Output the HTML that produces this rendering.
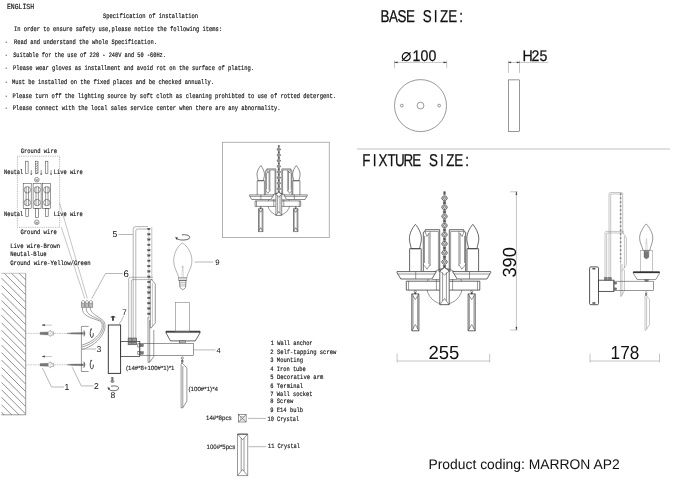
<!DOCTYPE html>
<html><head><meta charset="utf-8"><title>MARRON AP2 installation sheet</title>
<style>
html,body{margin:0;padding:0;background:#fff}
body{width:700px;height:483px;overflow:hidden}
svg{display:block;will-change:transform;text-rendering:geometricPrecision}
.m{font-family:"Liberation Mono","DejaVu Sans Mono",monospace;stroke:#222;stroke-width:.18}
.s{font-family:"Liberation Sans","DejaVu Sans",sans-serif}
.t{fill:none;stroke:#444;stroke-width:.55}
.f{fill:none;stroke:#aaa;stroke-width:.4}
.tu{fill:none;stroke:#777;stroke-width:.55}
.ld{fill:none;stroke:#888;stroke-width:.6}
.t2{fill:none;stroke:#3a3a3a;stroke-width:.6}
.lt{fill:none;stroke:#8c8c8c;stroke-width:.5}
.k2{fill:none;stroke:#444;stroke-width:.9}
.m2{fill:none;stroke:#333;stroke-width:.75}
.k{fill:none;stroke:#333;stroke-width:.95}
.w{fill:none;stroke:#8a8a8a;stroke-width:.8}
.hk{fill:none;stroke:#333;stroke-width:.9}
.an{fill:#777;stroke:#666;stroke-width:.3}
.tb{fill:#bbb;stroke:#666;stroke-width:.5}
.tc{fill:#fff;stroke:#666;stroke-width:.5}
.sb{stroke:#111;stroke-width:.25}
.bf{fill:#e4e4e4 !important}
.fw{fill:#fff !important}
.bd{fill:#555;stroke:#444;stroke-width:.3}
.dk{fill:#333;stroke:#333;stroke-width:.3}
.dk2{fill:#999;stroke:#333;stroke-width:.5}
.dk3{fill:#777;stroke:#555;stroke-width:.4}
.h{fill:none;stroke:#444;stroke-width:.6}
.d{fill:none;stroke:#8a8a8a;stroke-width:.5}
.dot{fill:none;stroke:#666;stroke-width:.5;stroke-dasharray:.9 .9}
.dash{fill:none;stroke:#888;stroke-width:.45;stroke-dasharray:1.6 .8}
.chain{fill:none;stroke:#555;stroke-width:1.5;stroke-dasharray:1.3 2.7}
.gb{fill:none;stroke:#aaa;stroke-width:.9}
.sep{stroke:#a8a8a8;stroke-width:.7}
</style></head>
<body>
<svg width="700" height="483" viewBox="0 0 700 483">
<rect width="700" height="483" fill="#fff"/>
<g id="spec">
<text x="7.0" y="9.0" font-size="7.8" textLength="27.0" lengthAdjust="spacingAndGlyphs" class="m" fill="#111" >ENGLISH</text>
<text x="103.0" y="18.2" font-size="6.8" textLength="95.0" lengthAdjust="spacingAndGlyphs" class="m" fill="#111" >Specification of installation</text>
<text x="14.0" y="31.2" font-size="6.8" textLength="208.0" lengthAdjust="spacingAndGlyphs" class="m" fill="#111" >In order to ensure safety use,please notice the following items:</text>
<text x="5.3" y="44.1" font-size="6.8" textLength="2.0" lengthAdjust="spacingAndGlyphs" class="m" fill="#111" >-</text>
<text x="14.0" y="44.1" font-size="6.8" textLength="143.0" lengthAdjust="spacingAndGlyphs" class="m" fill="#111" >Read and understand the whole Specification.</text>
<text x="5.3" y="56.9" font-size="6.8" textLength="2.0" lengthAdjust="spacingAndGlyphs" class="m" fill="#111" >-</text>
<text x="13.2" y="56.9" font-size="6.8" textLength="152.8" lengthAdjust="spacingAndGlyphs" class="m" fill="#111" >Suitable for the use of 220 - 240V and 50 -60Hz.</text>
<text x="5.3" y="70.1" font-size="6.8" textLength="2.0" lengthAdjust="spacingAndGlyphs" class="m" fill="#111" >-</text>
<text x="12.9" y="70.1" font-size="6.8" textLength="241.1" lengthAdjust="spacingAndGlyphs" class="m" fill="#111" >Please wear gloves as installment and avoid rot on the surface of plating.</text>
<text x="5.3" y="84.2" font-size="6.8" textLength="2.0" lengthAdjust="spacingAndGlyphs" class="m" fill="#111" >-</text>
<text x="11.9" y="84.2" font-size="6.8" textLength="202.1" lengthAdjust="spacingAndGlyphs" class="m" fill="#111" >Must be installed on the fixed places and be checked annually.</text>
<text x="5.3" y="97.6" font-size="6.8" textLength="2.0" lengthAdjust="spacingAndGlyphs" class="m" fill="#111" >-</text>
<text x="12.4" y="97.6" font-size="6.8" textLength="323.6" lengthAdjust="spacingAndGlyphs" class="m" fill="#111" >Please turn off the lighting source by soft cloth as cleaning prohibted to use of rotted detergent.</text>
<text x="5.3" y="110.3" font-size="6.8" textLength="2.0" lengthAdjust="spacingAndGlyphs" class="m" fill="#111" >-</text>
<text x="12.7" y="110.3" font-size="6.8" textLength="267.8" lengthAdjust="spacingAndGlyphs" class="m" fill="#111" >Please connect with the local sales service center when there are any abnormality.</text>
</g>
<g id="wiring">
<text x="20.7" y="153.3" font-size="6.6" textLength="36.3" lengthAdjust="spacingAndGlyphs" class="m" fill="#111" >Ground wire</text>
<text x="20.5" y="234.3" font-size="6.6" textLength="36.3" lengthAdjust="spacingAndGlyphs" class="m" fill="#111" >Ground wire</text>
<text x="4.1" y="173.9" font-size="6.6" textLength="19.1" lengthAdjust="spacingAndGlyphs" class="m" fill="#111" >Neutal</text>
<text x="53.8" y="173.9" font-size="6.6" textLength="29.0" lengthAdjust="spacingAndGlyphs" class="m" fill="#111" >Live wire</text>
<text x="4.1" y="215.8" font-size="6.6" textLength="19.1" lengthAdjust="spacingAndGlyphs" class="m" fill="#111" >Neutal</text>
<text x="53.8" y="215.8" font-size="6.6" textLength="29.0" lengthAdjust="spacingAndGlyphs" class="m" fill="#111" >Live wire</text>
<text x="10.2" y="247.7" font-size="6.6" textLength="49.8" lengthAdjust="spacingAndGlyphs" class="m" fill="#111" >Live wire-Brown</text>
<text x="10.2" y="256.3" font-size="6.6" textLength="36.4" lengthAdjust="spacingAndGlyphs" class="m" fill="#111" >Neutal-Blue</text>
<text x="10.2" y="264.6" font-size="6.6" textLength="80.5" lengthAdjust="spacingAndGlyphs" class="m" fill="#111" >Ground wire-Yellow/Green</text>
<rect x="17.4" y="156.2" width="42.2" height="71.1" class="dot"/>
<rect x="25.7" y="161.2" width="2.4" height="12.5" class="t"/>
<line x1="31.3" y1="170.0" x2="31.3" y2="174.5" class="t"/>
<path d="M30.6 173.4 L31.3 175 L32.0 173.4" class="t"/>
<rect x="25.8" y="208.7" width="2.6" height="8.0" class="t"/>
<rect x="35.6" y="161.2" width="2.4" height="12.5" class="t"/>
<line x1="41.2" y1="170.0" x2="41.2" y2="174.5" class="t"/>
<path d="M40.5 173.4 L41.2 175 L41.9 173.4" class="t"/>
<rect x="35.7" y="208.7" width="2.6" height="8.8" class="t"/>
<rect x="45.5" y="161.2" width="2.4" height="12.5" class="t"/>
<line x1="51.1" y1="170.0" x2="51.1" y2="174.5" class="t"/>
<path d="M50.4 173.4 L51.1 175 L51.8 173.4" class="t"/>
<rect x="45.6" y="208.7" width="2.6" height="8.0" class="t"/>
<line x1="35.6" y1="164.5" x2="38.0" y2="163.0" class="t"/>
<line x1="35.6" y1="166.8" x2="38.0" y2="165.3" class="t"/>
<line x1="35.6" y1="169.1" x2="38.0" y2="167.6" class="t"/>
<line x1="35.6" y1="171.4" x2="38.0" y2="169.9" class="t"/>
<line x1="35.6" y1="173.7" x2="38.0" y2="172.2" class="t"/>
<circle cx="36.8" cy="179.7" r="2.3" class="t"/>
<line x1="35.3" y1="179.7" x2="38.3" y2="179.7" class="t"/>
<line x1="35.8" y1="180.7" x2="37.8" y2="180.7" class="t"/>
<circle cx="36.8" cy="222.3" r="2.3" class="t"/>
<line x1="35.3" y1="222.3" x2="38.3" y2="222.3" class="t"/>
<line x1="35.8" y1="223.3" x2="37.8" y2="223.3" class="t"/>
<rect x="23.2" y="183.4" width="8.0" height="25.3" class="t"/>
<circle cx="27.3" cy="189.8" r="3.2" class="t"/>
<circle cx="27.3" cy="202.6" r="3.2" class="t"/>
<line x1="26.1" y1="186.7" x2="26.1" y2="205.6" class="t"/>
<line x1="28.5" y1="186.7" x2="28.5" y2="205.6" class="t"/>
<rect x="33.1" y="183.4" width="8.0" height="25.3" class="t"/>
<circle cx="37.2" cy="189.8" r="3.2" class="t"/>
<circle cx="37.2" cy="202.6" r="3.2" class="t"/>
<line x1="36.0" y1="186.7" x2="36.0" y2="205.6" class="t"/>
<line x1="38.4" y1="186.7" x2="38.4" y2="205.6" class="t"/>
<rect x="42.7" y="183.4" width="8.0" height="25.3" class="t"/>
<circle cx="46.8" cy="189.8" r="3.2" class="t"/>
<circle cx="46.8" cy="202.6" r="3.2" class="t"/>
<line x1="45.6" y1="186.7" x2="45.6" y2="205.6" class="t"/>
<line x1="48.0" y1="186.7" x2="48.0" y2="205.6" class="t"/>
<line x1="59.6" y1="203.0" x2="87.3" y2="298.5" class="lt"/>
<line x1="61.3" y1="227.3" x2="84.8" y2="298.5" class="lt"/>
</g>
<g id="wall">
<clipPath id="wc"><rect x="1.3" y="273.3" width="24.4" height="141.5"/></clipPath>
<g clip-path="url(#wc)">
<line x1="1.3" y1="240.6" x2="25.7" y2="265.0" class="h"/>
<line x1="1.3" y1="248.1" x2="25.7" y2="272.5" class="h"/>
<line x1="1.3" y1="255.5" x2="25.7" y2="279.9" class="h"/>
<line x1="1.3" y1="263.0" x2="25.7" y2="287.4" class="h"/>
<line x1="1.3" y1="270.4" x2="25.7" y2="294.8" class="h"/>
<line x1="1.3" y1="277.9" x2="25.7" y2="302.3" class="h"/>
<line x1="1.3" y1="285.3" x2="25.7" y2="309.7" class="h"/>
<line x1="1.3" y1="292.8" x2="25.7" y2="317.2" class="h"/>
<line x1="1.3" y1="300.2" x2="25.7" y2="324.6" class="h"/>
<line x1="1.3" y1="307.7" x2="25.7" y2="332.1" class="h"/>
<line x1="1.3" y1="315.1" x2="25.7" y2="339.5" class="h"/>
<line x1="1.3" y1="322.6" x2="25.7" y2="347.0" class="h"/>
<line x1="1.3" y1="330.0" x2="25.7" y2="354.4" class="h"/>
<line x1="1.3" y1="337.5" x2="25.7" y2="361.9" class="h"/>
<line x1="1.3" y1="344.9" x2="25.7" y2="369.3" class="h"/>
<line x1="1.3" y1="352.4" x2="25.7" y2="376.8" class="h"/>
<line x1="1.3" y1="359.8" x2="25.7" y2="384.2" class="h"/>
<line x1="1.3" y1="367.3" x2="25.7" y2="391.7" class="h"/>
<line x1="1.3" y1="374.7" x2="25.7" y2="399.1" class="h"/>
<line x1="1.3" y1="382.2" x2="25.7" y2="406.6" class="h"/>
<line x1="1.3" y1="389.6" x2="25.7" y2="414.0" class="h"/>
<line x1="1.3" y1="397.1" x2="25.7" y2="421.5" class="h"/>
<line x1="1.3" y1="404.5" x2="25.7" y2="428.9" class="h"/>
<line x1="1.3" y1="412.0" x2="25.7" y2="436.4" class="h"/>
<line x1="1.3" y1="419.4" x2="25.7" y2="443.8" class="h"/>
</g>
<line x1="25.7" y1="273.3" x2="25.7" y2="414.8" class="t"/>
<line x1="1.3" y1="273.3" x2="25.7" y2="273.3" class="lt"/>
<line x1="1.3" y1="414.8" x2="25.7" y2="414.8" class="t"/>
</g>
<g id="screws">
<line x1="25.7" y1="333.4" x2="83" y2="333.4" class="dash"/>
<path d="M40 332.2 L47.9 331.9 L47.9 334.9 L40 334.59999999999997 Z" class="an"/>
<path d="M47.9 332.2 L50.6 330.4 L50.9 331.9 L53.7 332.0 L53.7 335.0 L50.9 335.0 L50.6 336.4 L47.9 334.59999999999997 Z" class="tu"/>
<line x1="44.0" y1="325.1" x2="52.1" y2="325.1" class="lt"/>
<path d="M44.6 324.29999999999995 L42 325.09999999999997 L44.6 325.9 Z" class="dk"/>
<path d="M66.9 333.4 L72 332.7 L83.4 332.5 L83.4 334.29999999999995 L72 334.09999999999997 Z" class="an"/>
<path d="M83.8 330.2 Q86.6 333.4 83.8 336.59999999999997 Z" class="an"/>
<path d="M91.1 329.2 C89.8 331.4 89.9 336.4 91.5 337.5 C93 338.0 93.5 334.9 93.3 333.2" class="hk"/>
<circle cx="91.2" cy="329.1" r="0.6" class="dk"/>
<line x1="25.7" y1="364.8" x2="83" y2="364.8" class="dash"/>
<path d="M40 363.6 L47.9 363.3 L47.9 366.3 L40 366.0 Z" class="an"/>
<path d="M47.9 363.6 L50.6 361.8 L50.9 363.3 L53.7 363.40000000000003 L53.7 366.40000000000003 L50.9 366.40000000000003 L50.6 367.8 L47.9 366.0 Z" class="tu"/>
<line x1="44.0" y1="356.5" x2="52.1" y2="356.5" class="lt"/>
<path d="M44.6 355.7 L42 356.5 L44.6 357.3 Z" class="dk"/>
<path d="M66.9 364.8 L72 364.1 L83.4 363.90000000000003 L83.4 365.7 L72 365.5 Z" class="an"/>
<path d="M83.8 361.6 Q86.6 364.8 83.8 368.0 Z" class="an"/>
<path d="M91.1 360.6 C89.8 362.8 89.9 367.8 91.5 368.90000000000003 C93 369.40000000000003 93.5 366.3 93.3 364.6" class="hk"/>
<circle cx="91.2" cy="360.5" r="0.6" class="dk"/>
<path d="M88.7 326.4 L81.4 326.4 L81.4 371.5 L88.7 371.5" class="t"/>
<line x1="81.6" y1="349.0" x2="96.0" y2="349.0" class="ld"/>
<path d="M42.4 368 L51.5 387 L64 387" class="ld"/>
<path d="M72.2 367.2 L81.3 385.9 L93.7 385.9" class="ld"/>
</g>
<text x="66.8" y="390.2" font-size="8.6" class="s" fill="#111" text-anchor="middle">1</text>
<text x="96.4" y="388.8" font-size="8.6" class="s" fill="#111" text-anchor="middle">2</text>
<text x="99.0" y="351.8" font-size="8.6" class="s" fill="#111" text-anchor="middle">3</text>
<text x="218.5" y="352.7" font-size="7.4" class="s" fill="#111" text-anchor="middle">4</text>
<text x="115.0" y="237.3" font-size="8.6" class="s" fill="#111" text-anchor="middle">5</text>
<text x="126.2" y="276.5" font-size="9.6" class="s" fill="#111" text-anchor="middle">6</text>
<text x="124.6" y="315.4" font-size="8" class="s" fill="#111" text-anchor="middle">7</text>
<text x="113.0" y="398.0" font-size="8.6" class="s" fill="#111" text-anchor="middle">8</text>
<text x="217.5" y="264.9" font-size="7.8" class="s" fill="#111" text-anchor="middle">9</text>
<g id="term">
<rect x="81.2" y="302.6" width="3.8" height="4.7" class="tb"/>
<circle cx="83.1" cy="302.0" r="1.5" class="tc"/>
<rect x="85.1" y="302.6" width="3.8" height="4.7" class="tb"/>
<circle cx="87.0" cy="302.0" r="1.5" class="tc"/>
<rect x="89.0" y="302.6" width="3.8" height="4.7" class="tb"/>
<circle cx="90.9" cy="302.0" r="1.5" class="tc"/>
<path d="M91.8 298.6 L105.5 273.5 L122.7 273.5" class="ld"/>
<path d="M82.5 307.3 C81 316 92 318 100 321 C106 325 100 340 82 345" class="w"/>
<path d="M86.3 307.3 C85 315 95 317 101 320.5 C108 325 101 342 82 347" class="w"/>
<path d="M90.2 307.3 C90 313 97 316 102 319.5 C110 325 102 344 82 349.5" class="w"/>
</g>
<g id="socket">
<rect x="108.3" y="325.0" width="12.3" height="48.4" class="k"/>
<line x1="118.8" y1="325.0" x2="123.7" y2="316.2" class="ld"/>
<path d="M110.6 317.3 Q113 314.6 115.4 317.3 Z" class="dk"/>
<rect x="112.2" y="317.3" width="1.6" height="3.4" class="dk"/>
<rect x="111.7" y="377.3" width="1.4" height="3.4" class="dk3"/>
<line x1="110.4" y1="381.2" x2="114.4" y2="381.2" class="m2"/>
<line x1="111.0" y1="382.4" x2="113.8" y2="382.4" class="t"/>
<path d="M108.6 388.6 C109 391.6 118.6 391.4 118.6 388.2 C118.6 385.6 113 385.6 111 386.4" class="m2"/>
<path d="M107.6 387.4 L109.8 388 L108.8 389.8 Z" class="dk"/>
<rect x="120.6" y="341.6" width="19.2" height="14.9" class="m2"/>
<path d="M128.7 338 L128.7 279 Q128.7 277.3 130.5 277.3 L153 277.3" class="tu"/>
<path d="M131.3 338 L131.3 281 Q131.3 279.6 132.6 279.6 L153 279.6" class="tu"/>
<path d="M133.2 338 L133.2 229 Q133.2 226.6 135.5 226.6 L148 226.6" class="tu"/>
<path d="M135.8 338 L135.8 231 Q135.8 229 137.5 229 L148 229" class="tu"/>
<rect x="128.1" y="338.0" width="3.9" height="3.6" class="dk2"/>
<rect x="128.1" y="342.2" width="3.9" height="2.6" class="dk2"/>
<rect x="132.8" y="338.0" width="3.9" height="3.6" class="dk2"/>
<rect x="132.8" y="342.2" width="3.9" height="2.6" class="dk2"/>
<rect x="137.8" y="343.8" width="2.2" height="3.2" class="t"/>
<rect x="140.0" y="344.1" width="3.4" height="2.6" class="dk3"/>
<rect x="137.8" y="351.3" width="2.2" height="3.2" class="t"/>
<rect x="140.0" y="351.6" width="3.4" height="2.6" class="dk3"/>
<line x1="118.5" y1="234.5" x2="133.0" y2="234.5" class="ld"/>
<line x1="151.8" y1="227.0" x2="151.8" y2="278.0" class="lt"/>
<rect x="147.7" y="228.2" width="2.4" height="1.6" class="bd"/>
<line x1="148.9" y1="229.9" x2="148.9" y2="233.5" class="lt"/>
<rect x="147.7" y="233.5" width="2.4" height="1.6" class="bd"/>
<line x1="148.9" y1="235.2" x2="148.9" y2="238.8" class="lt"/>
<rect x="147.7" y="238.8" width="2.4" height="1.6" class="bd"/>
<line x1="148.9" y1="240.5" x2="148.9" y2="244.1" class="lt"/>
<rect x="147.7" y="244.1" width="2.4" height="1.6" class="bd"/>
<line x1="148.9" y1="245.8" x2="148.9" y2="249.4" class="lt"/>
<rect x="147.7" y="249.4" width="2.4" height="1.6" class="bd"/>
<line x1="148.9" y1="251.1" x2="148.9" y2="254.7" class="lt"/>
<rect x="147.7" y="254.7" width="2.4" height="1.6" class="bd"/>
<line x1="148.9" y1="256.4" x2="148.9" y2="260.0" class="lt"/>
<rect x="147.7" y="260.0" width="2.4" height="1.6" class="bd"/>
<line x1="148.9" y1="261.7" x2="148.9" y2="265.3" class="lt"/>
<rect x="147.7" y="265.3" width="2.4" height="1.6" class="bd"/>
<line x1="148.9" y1="267.0" x2="148.9" y2="270.6" class="lt"/>
<rect x="147.7" y="270.6" width="2.4" height="1.6" class="bd"/>
<line x1="148.9" y1="272.3" x2="148.9" y2="275.9" class="lt"/>
<rect x="147.7" y="275.9" width="2.4" height="1.6" class="bd"/>
<line x1="148.9" y1="277.6" x2="148.9" y2="281.2" class="lt"/>
<rect x="147.7" y="281.2" width="2.4" height="1.6" class="bd"/>
<line x1="148.9" y1="282.9" x2="148.9" y2="286.5" class="lt"/>
<rect x="147.7" y="286.5" width="2.4" height="1.6" class="bd"/>
<line x1="148.9" y1="288.2" x2="148.9" y2="291.8" class="lt"/>
<rect x="147.7" y="291.8" width="2.4" height="1.6" class="bd"/>
<line x1="148.9" y1="293.5" x2="148.9" y2="297.1" class="lt"/>
<rect x="147.7" y="297.1" width="2.4" height="1.6" class="bd"/>
<line x1="148.9" y1="298.8" x2="148.9" y2="302.4" class="lt"/>
<rect x="147.7" y="302.4" width="2.4" height="1.6" class="bd"/>
<line x1="148.9" y1="304.1" x2="148.9" y2="307.7" class="lt"/>
<rect x="147.7" y="307.7" width="2.4" height="1.6" class="bd"/>
<line x1="148.9" y1="309.4" x2="148.9" y2="313.0" class="lt"/>
<rect x="147.7" y="313.0" width="2.4" height="1.6" class="bd"/>
<line x1="148.9" y1="314.7" x2="148.9" y2="318.3" class="lt"/>
<path d="M150.7 278.5 L155.3 284 L155.3 322.9 L151.2 328 L150.3 328 L150.3 280" class="t"/>
<line x1="152.4" y1="283.0" x2="152.4" y2="326.5" class="lt"/>
<path d="M148 317 L148 362.3 L149.7 362.3 L153.8 356.5 L153.8 330" class="t"/>
<line x1="149.7" y1="320.0" x2="149.7" y2="362.0" class="t"/>
<rect x="139.8" y="343.3" width="53.6" height="12.2" class="t"/>
<line x1="194.0" y1="349.9" x2="215.5" y2="349.9" class="ld"/>
<path d="M166 331.3 L200 331.3 L200 332.9 L195.3 340.9 L170.5 340.9 L166 332.9 Z" class="m2"/>
<path d="M166 331.2 L200 331.2 L200 332.6 L166 332.6 Z" class="dk"/>
<rect x="179.6" y="340.9" width="5.8" height="1.9" class="t"/>
<rect x="175.5" y="302.3" width="14.0" height="29.0" class="tu"/>
<path d="M182.5 243 C187.3 245.8 191.9 253 191.9 260.5 C191.9 268.5 187.2 273 186.8 277.9 L178.6 277.9 C178.2 273 173.7 268.5 173.7 260.5 C173.7 253 177.7 245.8 182.5 243 Z" class="tu"/>
<rect x="178.6" y="277.9" width="8.2" height="2.6" class="tu"/>
<line x1="179.3" y1="280.6" x2="186.2" y2="280.6" class="dk3"/>
<line x1="179.3" y1="282.4" x2="186.2" y2="282.4" class="dk3"/>
<line x1="179.3" y1="284.2" x2="186.2" y2="284.2" class="dk3"/>
<line x1="179.3" y1="286.0" x2="186.2" y2="286.0" class="dk3"/>
<path d="M179.5 280.2 L186 280.2 L185.6 287.6 L182.8 289.8 L180 287.6 Z" class="t"/>
<path d="M181.8 277.5 L182.2 270 L183.2 270 L183.6 277.5 M182.2 270 L182.7 265.5 L183.2 270 M181.3 268 L182.7 266.3 L184.1 268" class="f"/>
<path d="M176.6 238.4 C179 241 189.6 240.4 189.7 237.5 C189.8 235 185 234.4 181.8 234.9" class="m2"/>
<path d="M175.4 237.2 L177.8 237.8 L176.6 239.6 Z" class="dk"/>
<line x1="194.6" y1="262.0" x2="213.4" y2="262.0" class="ld"/>
<circle cx="182.3" cy="358.0" r="1.1" class="t"/>
<line x1="182.3" y1="359.0" x2="182.3" y2="363.0" class="t"/>
<rect x="181.5" y="360.2" width="1.6" height="2.0" class="dk3"/>
<path d="M182 363 L186.9 368 L186.9 401.2 L182.8 407.8 L181.1 407.8 L181.1 364 Z" class="t"/>
<line x1="182.8" y1="366.0" x2="182.8" y2="407.5" class="t"/>
<text x="126.0" y="370.3" font-size="6.0" textLength="48.5" lengthAdjust="spacingAndGlyphs" class="s" fill="#222" stroke="#333" stroke-width=".15">(14#*8+100#*1)*1</text>
<text x="188.5" y="391.3" font-size="6.0" textLength="29.5" lengthAdjust="spacingAndGlyphs" class="s" fill="#222" stroke="#333" stroke-width=".15">(100#*1)*4</text>
</g>
<g id="legend">
<text x="270.8" y="344.5" font-size="6.6" textLength="41.8" lengthAdjust="spacingAndGlyphs" class="m" fill="#111" >1 Wall anchor</text>
<text x="270.3" y="353.7" font-size="6.6" textLength="66.0" lengthAdjust="spacingAndGlyphs" class="m" fill="#111" >2 Self-tapping screw</text>
<text x="270.3" y="362.2" font-size="6.6" textLength="32.8" lengthAdjust="spacingAndGlyphs" class="m" fill="#111" >3 Mounting</text>
<text x="270.3" y="370.6" font-size="6.6" textLength="35.5" lengthAdjust="spacingAndGlyphs" class="m" fill="#111" >4 Iron tube</text>
<text x="270.3" y="378.9" font-size="6.6" textLength="53.0" lengthAdjust="spacingAndGlyphs" class="m" fill="#111" >5 Decorative arm</text>
<text x="270.3" y="387.7" font-size="6.6" textLength="32.7" lengthAdjust="spacingAndGlyphs" class="m" fill="#111" >6 Terminal</text>
<text x="270.3" y="395.6" font-size="6.6" textLength="42.3" lengthAdjust="spacingAndGlyphs" class="m" fill="#111" >7 Wall socket</text>
<text x="270.3" y="402.5" font-size="6.6" textLength="22.9" lengthAdjust="spacingAndGlyphs" class="m" fill="#111" >8 Screw</text>
<text x="270.3" y="411.5" font-size="6.6" textLength="32.7" lengthAdjust="spacingAndGlyphs" class="m" fill="#111" >9 E14 bulb</text>
<text x="267.6" y="420.5" font-size="6.6" textLength="31.5" lengthAdjust="spacingAndGlyphs" class="m" fill="#111" >10 Crystal</text>
<text x="268.0" y="448.4" font-size="6.6" textLength="32.0" lengthAdjust="spacingAndGlyphs" class="m" fill="#111" >11 Crystal</text>
<text x="206.1" y="420.4" font-size="6.3" textLength="25.4" lengthAdjust="spacingAndGlyphs" class="s" fill="#222" stroke="#333" stroke-width=".15">14#*8pcs</text>
<text x="206.5" y="448.6" font-size="6.3" textLength="28.7" lengthAdjust="spacingAndGlyphs" class="s" fill="#222" stroke="#333" stroke-width=".15">100#*5pcs</text>
<rect x="238.5" y="414.7" width="7.6" height="7.3" class="t"/>
<line x1="238.5" y1="414.7" x2="246.1" y2="422.0" class="t"/>
<line x1="246.1" y1="414.7" x2="238.5" y2="422.0" class="t"/>
<rect x="240.6" y="416.7" width="3.4" height="3.3" class="lt"/>
<line x1="248.2" y1="418.4" x2="265.9" y2="418.4" class="ld"/>
<line x1="248.5" y1="446.7" x2="266.3" y2="446.7" class="ld"/>
<path d="M237.5 434.1 L247.7 434.1 L247.7 475.6 L237.5 475.6 Z" class="t"/>
<line x1="237.5" y1="434.2" x2="247.7" y2="434.2" class="k2"/>
<path d="M237.5 434.1 L242.6 439.7 L247.7 434.1 M241.2 438.2 L241.2 471 M244 438.2 L244 471 M237.5 475.6 L242.6 469.6 L247.7 475.6" class="t"/>
</g>
<g id="thumb">
<rect x="222.5" y="142.3" width="106.8" height="95.2" class="gb"/>
<circle cx="278.8" cy="204.1" r="11.0" class="t"/>
<path d="M278.2 145.3 L279.4 145.3 L279.4 147.2 L278.2 147.2 Z" class="bd"/>
<path d="M278.1 148.0 L279.5 148.0 L280.4 148.8 L280.4 150.0 L279.5 150.8 L278.1 150.8 L277.2 150.0 L277.2 148.8 Z" class="t2 bf"/>
<circle cx="278.8" cy="149.4" r="0.7" class="t"/>
<path d="M278.1 151.4 L279.5 151.4 L279.5 153.1 L278.1 153.1 Z" class="bd"/>
<path d="M278.1 153.7 L279.5 153.7 L280.4 154.5 L280.4 155.6 L279.5 156.4 L278.1 156.4 L277.2 155.6 L277.2 154.5 Z" class="t2 bf"/>
<circle cx="278.8" cy="155.0" r="0.7" class="t"/>
<path d="M278.1 157.0 L279.5 157.0 L279.5 158.7 L278.1 158.7 Z" class="bd"/>
<path d="M278.1 159.3 L279.5 159.3 L280.4 160.1 L280.4 161.2 L279.5 162.0 L278.1 162.0 L277.2 161.2 L277.2 160.1 Z" class="t2 bf"/>
<circle cx="278.8" cy="160.7" r="0.7" class="t"/>
<path d="M278.1 162.7 L279.5 162.7 L279.5 164.3 L278.1 164.3 Z" class="bd"/>
<path d="M278.1 165.0 L279.5 165.0 L280.4 165.8 L280.4 166.9 L279.5 167.7 L278.1 167.7 L277.2 166.9 L277.2 165.8 Z" class="t2 bf"/>
<circle cx="278.8" cy="166.3" r="0.7" class="t"/>
<path d="M278.1 168.3 L279.5 168.3 L279.5 170.0 L278.1 170.0 Z" class="bd"/>
<path d="M278.1 170.6 L279.5 170.6 L280.4 171.4 L280.4 172.5 L279.5 173.3 L278.1 173.3 L277.2 172.5 L277.2 171.4 Z" class="t2 bf"/>
<circle cx="278.8" cy="172.0" r="0.7" class="t"/>
<path d="M278.1 173.9 L279.5 173.9 L279.5 175.6 L278.1 175.6 Z" class="bd"/>
<path d="M278.1 176.2 L279.5 176.2 L280.4 177.0 L280.4 178.2 L279.5 179.0 L278.1 179.0 L277.2 178.2 L277.2 177.0 Z" class="t2 bf"/>
<circle cx="278.8" cy="177.6" r="0.7" class="t"/>
<path d="M278.1 179.6 L279.5 179.6 L279.5 181.3 L278.1 181.3 Z" class="bd"/>
<path d="M278.1 181.9 L279.5 181.9 L280.4 182.7 L280.4 183.8 L279.5 184.6 L278.1 184.6 L277.2 183.8 L277.2 182.7 Z" class="t2 bf"/>
<circle cx="278.8" cy="183.2" r="0.7" class="t"/>
<path d="M278.1 185.2 L279.5 185.2 L279.5 186.9 L278.1 186.9 Z" class="bd"/>
<path d="M278.1 187.5 L279.5 187.5 L280.4 188.3 L280.4 189.4 L279.5 190.2 L278.1 190.2 L277.2 189.4 L277.2 188.3 Z" class="t2 bf"/>
<circle cx="278.8" cy="188.9" r="0.7" class="t"/>
<path d="M278.1 190.9 L279.5 190.9 L279.5 192.5 L278.1 192.5 Z" class="bd"/>
<path d="M260.8 165.6 C258.8 167.9 257.0 171.3 257.0 174.4 C257.0 177.2 258.1 179.0 258.1 180.7 L263.4 180.7 C263.4 179.0 264.5 177.2 264.5 174.4 C264.5 171.3 262.7 167.9 260.8 165.6 Z" class="t2"/>
<path d="M264.4 194.9 L264.4 180.7 L257.2 180.7 L257.2 194.9" class="t2"/>
<path d="M275.8 194.9 L275.8 168.9 L266.8 168.9 L266.8 170.0 L265.7 170.5 L265.7 194.9" class="t2 fw"/>
<line x1="275.0" y1="170.0" x2="266.8" y2="170.0" class="t"/>
<line x1="275.0" y1="170.0" x2="275.0" y2="194.9" class="t"/>
<line x1="269.9" y1="170.0" x2="269.9" y2="191.4" class="t"/>
<line x1="269.1" y1="171.0" x2="269.1" y2="190.2" class="t"/>
<path d="M266.8 170.3 L267.8 173.1 L269.1 171.3" class="t"/>
<path d="M269.9 190.5 L268.0 193.4 L265.7 190.5" class="t"/>
<line x1="266.4" y1="172.8" x2="266.4" y2="189.6" class="t"/>
<path d="M273.8 194.9 L249.4 194.9 L249.4 195.5 L251.7 199.5 L270.9 199.5 Z" class="t2 fw"/>
<line x1="272.9" y1="196.4" x2="249.9" y2="196.4" class="t"/>
<line x1="260.9" y1="194.9" x2="260.9" y2="199.5" class="t"/>
<path d="M275.8 200.9 L255.1 200.9 L255.1 206.4 L275.8 206.4" class="t2 fw"/>
<line x1="273.8" y1="200.9" x2="273.8" y2="206.4" class="t"/>
<line x1="256.5" y1="200.9" x2="256.5" y2="206.4" class="t"/>
<line x1="273.8" y1="199.5" x2="273.8" y2="200.9" class="t"/>
<line x1="275.8" y1="199.8" x2="271.1" y2="199.8" class="t"/>
<circle cx="260.7" cy="207.3" r="0.6" class="t"/>
<path d="M261.1 207.9 L260.3 207.9 L260.3 208.8 L261.1 208.8 Z" class="bd"/>
<path d="M262.9 208.7 L258.5 208.7 L258.5 231.6 L262.9 231.6 Z" class="t2"/>
<line x1="262.1" y1="209.7" x2="262.1" y2="230.5" class="t"/>
<line x1="259.3" y1="209.7" x2="259.3" y2="230.5" class="t"/>
<path d="M262.9 208.7 L260.7 212.3 L258.5 208.7" class="t"/>
<path d="M262.9 231.6 L260.7 227.7 L258.5 231.6" class="t"/>
<path d="M296.3 165.6 C298.3 167.9 300.1 171.3 300.1 174.4 C300.1 177.2 299.0 179.0 299.0 180.7 L293.7 180.7 C293.7 179.0 292.6 177.2 292.6 174.4 C292.6 171.3 294.4 167.9 296.3 165.6 Z" class="t2"/>
<path d="M292.8 194.9 L292.8 180.7 L299.9 180.7 L299.9 194.9" class="t2"/>
<path d="M281.8 194.9 L281.8 168.9 L290.8 168.9 L290.8 170.0 L291.9 170.5 L291.9 194.9" class="t2 fw"/>
<line x1="282.6" y1="170.0" x2="290.8" y2="170.0" class="t"/>
<line x1="282.6" y1="170.0" x2="282.6" y2="194.9" class="t"/>
<line x1="287.7" y1="170.0" x2="287.7" y2="191.4" class="t"/>
<line x1="288.5" y1="171.0" x2="288.5" y2="190.2" class="t"/>
<path d="M290.8 170.3 L289.8 173.1 L288.5 171.3" class="t"/>
<path d="M287.7 190.5 L289.6 193.4 L291.9 190.5" class="t"/>
<line x1="291.2" y1="172.8" x2="291.2" y2="189.6" class="t"/>
<path d="M283.8 194.9 L307.4 194.9 L307.4 195.5 L305.1 199.5 L286.7 199.5 Z" class="t2 fw"/>
<line x1="284.7" y1="196.4" x2="306.9" y2="196.4" class="t"/>
<line x1="294.3" y1="194.9" x2="294.3" y2="199.5" class="t"/>
<path d="M281.8 200.9 L300.7 200.9 L300.7 206.4 L281.8 206.4" class="t2 fw"/>
<line x1="283.8" y1="200.9" x2="283.8" y2="206.4" class="t"/>
<line x1="299.3" y1="200.9" x2="299.3" y2="206.4" class="t"/>
<line x1="283.8" y1="199.5" x2="283.8" y2="200.9" class="t"/>
<line x1="281.8" y1="199.8" x2="286.6" y2="199.8" class="t"/>
<circle cx="295.7" cy="207.3" r="0.6" class="t"/>
<path d="M295.2 207.9 L296.1 207.9 L296.1 208.8 L295.2 208.8 Z" class="bd"/>
<path d="M293.5 208.7 L297.9 208.7 L297.9 231.6 L293.5 231.6 Z" class="t2"/>
<line x1="294.2" y1="209.7" x2="294.2" y2="230.5" class="t"/>
<line x1="297.1" y1="209.7" x2="297.1" y2="230.5" class="t"/>
<path d="M293.5 208.7 L295.7 212.3 L297.9 208.7" class="t"/>
<path d="M293.5 231.6 L295.7 227.7 L297.9 231.6" class="t"/>
<path d="M272.7 194.9 A11.0 11.0 0 0 1 284.9 194.9" class="t"/>
<path d="M275.9 194.5 L278.8 192.3 L281.7 194.5 L281.7 215.4 L275.9 215.4 Z" class="t2 fw"/>
<line x1="277.6" y1="195.5" x2="277.6" y2="213.1" class="t"/>
<line x1="280.0" y1="195.5" x2="280.0" y2="213.1" class="t"/>
<path d="M275.9 194.5 L278.8 197.0 L281.7 194.5" class="t"/>
<path d="M275.9 215.4 L278.8 211.6 L281.7 215.4" class="t"/>
</g>
<g id="right">
<text transform="scale(0.78,1)" x="493.62 504.46 515.29 526.12 536.96 547.79 558.62 569.46 580.29 591.12" y="22.3" font-size="17.2" class="s sb" fill="#111" text-anchor="middle">BASE SIZE:</text>
<text transform="scale(0.78,1)" x="469.62 480.38 491.15 501.92 512.69 523.46 534.23 545.00 555.77 566.54 577.31 588.08 598.85" y="166.2" font-size="17.2" class="s sb" fill="#111" text-anchor="middle">FIXTURE SIZE:</text>
<text transform="scale(0.92,1)" x="573.53 582.12 590.71" y="60.7" font-size="15.4" class="s sb" fill="#111" text-anchor="middle">H25</text>
<text transform="scale(0.92,1)" x="452.77 461.36 469.95" y="60.7" font-size="15.4" class="s sb" fill="#111" text-anchor="middle">100</text>
<text x="406.2" y="61.4" font-size="17.5" fill="#111" text-anchor="middle" style="font-family:'Liberation Sans','DejaVu Sans',sans-serif">⌀</text>
<line x1="394.5" y1="62.4" x2="446.7" y2="62.4" class="d"/>
<line x1="394.5" y1="60.6" x2="394.5" y2="67.8" class="d"/>
<line x1="446.7" y1="60.6" x2="446.7" y2="67.8" class="d"/>
<path d="M394.5 62.4 l3 -0.6 v1.2 Z M446.7 62.4 l-3 -0.6 v1.2 Z" class="dk"/>
<circle cx="420.5" cy="105.6" r="26.0" class="t"/>
<circle cx="420.5" cy="105.6" r="3.4" class="t"/>
<circle cx="401.8" cy="105.6" r="1.4" class="t"/>
<circle cx="439.1" cy="105.6" r="1.4" class="t"/>
<line x1="508.4" y1="62.4" x2="548.3" y2="62.4" class="d"/>
<line x1="508.4" y1="60.6" x2="508.4" y2="72.9" class="d"/>
<line x1="519.5" y1="60.6" x2="519.5" y2="72.9" class="d"/>
<path d="M508.4 62.4 l2.6 -0.6 v1.2 Z M519.5 62.4 l-2.6 -0.6 v1.2 Z" class="dk"/>
<rect x="508.4" y="79.9" width="11.1" height="51.4" class="t"/>
<line x1="357" y1="149" x2="670" y2="149" class="sep"/>
<circle cx="444.5" cy="286.4" r="17.8" class="t"/>
<path d="M443.6 191.6 L445.4 191.6 L445.4 194.6 L443.6 194.6 Z" class="bd"/>
<path d="M443.4 196.0 L445.6 196.0 L447.1 197.3 L447.1 199.1 L445.6 200.4 L443.4 200.4 L441.9 199.1 L441.9 197.3 Z" class="m2 bf"/>
<circle cx="444.5" cy="198.2" r="1.1" class="t"/>
<path d="M443.3 201.4 L445.7 201.4 L445.7 204.1 L443.3 204.1 Z" class="bd"/>
<path d="M443.4 205.1 L445.6 205.1 L447.1 206.4 L447.1 208.2 L445.6 209.5 L443.4 209.5 L441.9 208.2 L441.9 206.4 Z" class="m2 bf"/>
<circle cx="444.5" cy="207.3" r="1.1" class="t"/>
<path d="M443.3 210.5 L445.7 210.5 L445.7 213.2 L443.3 213.2 Z" class="bd"/>
<path d="M443.4 214.2 L445.6 214.2 L447.1 215.5 L447.1 217.3 L445.6 218.6 L443.4 218.6 L441.9 217.3 L441.9 215.5 Z" class="m2 bf"/>
<circle cx="444.5" cy="216.4" r="1.1" class="t"/>
<path d="M443.3 219.6 L445.7 219.6 L445.7 222.3 L443.3 222.3 Z" class="bd"/>
<path d="M443.4 223.3 L445.6 223.3 L447.1 224.6 L447.1 226.4 L445.6 227.7 L443.4 227.7 L441.9 226.4 L441.9 224.6 Z" class="m2 bf"/>
<circle cx="444.5" cy="225.5" r="1.1" class="t"/>
<path d="M443.3 228.7 L445.7 228.7 L445.7 231.4 L443.3 231.4 Z" class="bd"/>
<path d="M443.4 232.4 L445.6 232.4 L447.1 233.7 L447.1 235.5 L445.6 236.8 L443.4 236.8 L441.9 235.5 L441.9 233.7 Z" class="m2 bf"/>
<circle cx="444.5" cy="234.6" r="1.1" class="t"/>
<path d="M443.3 237.8 L445.7 237.8 L445.7 240.5 L443.3 240.5 Z" class="bd"/>
<path d="M443.4 241.5 L445.6 241.5 L447.1 242.8 L447.1 244.6 L445.6 245.9 L443.4 245.9 L441.9 244.6 L441.9 242.8 Z" class="m2 bf"/>
<circle cx="444.5" cy="243.7" r="1.1" class="t"/>
<path d="M443.3 246.9 L445.7 246.9 L445.7 249.6 L443.3 249.6 Z" class="bd"/>
<path d="M443.4 250.6 L445.6 250.6 L447.1 251.9 L447.1 253.7 L445.6 255.0 L443.4 255.0 L441.9 253.7 L441.9 251.9 Z" class="m2 bf"/>
<circle cx="444.5" cy="252.8" r="1.1" class="t"/>
<path d="M443.3 256.0 L445.7 256.0 L445.7 258.7 L443.3 258.7 Z" class="bd"/>
<path d="M443.4 259.7 L445.6 259.7 L447.1 261.0 L447.1 262.8 L445.6 264.1 L443.4 264.1 L441.9 262.8 L441.9 261.0 Z" class="m2 bf"/>
<circle cx="444.5" cy="261.9" r="1.1" class="t"/>
<path d="M443.3 265.1 L445.7 265.1 L445.7 267.8 L443.3 267.8 Z" class="bd"/>
<path d="M415.4 224.4 C412.2 228.0 409.4 233.5 409.4 238.5 C409.4 243.0 411.1 246.0 411.1 248.7 L419.7 248.7 C419.7 246.0 421.4 243.0 421.4 238.5 C421.4 233.5 418.6 228.0 415.4 224.4 Z" class="m2"/>
<path d="M421.2 271.6 L421.2 248.7 L409.6 248.7 L409.6 271.6" class="m2"/>
<path d="M439.7 271.6 L439.7 229.7 L425.2 229.7 L425.2 231.4 L423.3 232.2 L423.3 271.6" class="m2 fw"/>
<line x1="438.4" y1="231.4" x2="425.2" y2="231.4" class="t"/>
<line x1="438.4" y1="231.4" x2="438.4" y2="271.6" class="t"/>
<line x1="430.1" y1="231.4" x2="430.1" y2="266.0" class="t"/>
<line x1="428.9" y1="233.0" x2="428.9" y2="264.0" class="t"/>
<path d="M425.2 232.0 L426.8 236.5 L428.9 233.5" class="t"/>
<path d="M430.1 264.5 L427.1 269.2 L423.3 264.5" class="t"/>
<line x1="424.5" y1="236.0" x2="424.5" y2="263.0" class="t"/>
<path d="M436.4 271.6 L397.0 271.6 L397.0 272.6 L400.8 279.0 L431.8 279.0 Z" class="m2 fw"/>
<line x1="435.0" y1="274.0" x2="397.9" y2="274.0" class="t"/>
<line x1="415.7" y1="271.6" x2="415.7" y2="279.0" class="t"/>
<path d="M439.7 281.2 L406.3 281.2 L406.3 290.1 L439.7 290.1" class="m2 fw"/>
<line x1="436.4" y1="281.2" x2="436.4" y2="290.1" class="t"/>
<line x1="408.6" y1="281.2" x2="408.6" y2="290.1" class="t"/>
<line x1="436.4" y1="279.0" x2="436.4" y2="281.2" class="t"/>
<line x1="439.7" y1="279.5" x2="432.0" y2="279.5" class="t"/>
<circle cx="415.3" cy="291.6" r="1.0" class="t"/>
<path d="M416.0 292.6 L414.6 292.6 L414.6 294.0 L416.0 294.0 Z" class="bd"/>
<path d="M418.9 293.9 L411.8 293.9 L411.8 330.8 L418.9 330.8 Z" class="m2"/>
<line x1="417.6" y1="295.5" x2="417.6" y2="329.0" class="t"/>
<line x1="413.0" y1="295.5" x2="413.0" y2="329.0" class="t"/>
<path d="M418.9 293.9 L415.3 299.6 L411.8 293.9" class="t"/>
<path d="M418.9 330.8 L415.3 324.5 L411.8 330.8" class="t"/>
<path d="M472.8 224.4 C476.0 228.0 478.8 233.5 478.8 238.5 C478.8 243.0 477.1 246.0 477.1 248.7 L468.5 248.7 C468.5 246.0 466.8 243.0 466.8 238.5 C466.8 233.5 469.6 228.0 472.8 224.4 Z" class="m2"/>
<path d="M467.0 271.6 L467.0 248.7 L478.6 248.7 L478.6 271.6" class="m2"/>
<path d="M449.3 271.6 L449.3 229.7 L463.8 229.7 L463.8 231.4 L465.7 232.2 L465.7 271.6" class="m2 fw"/>
<line x1="450.6" y1="231.4" x2="463.8" y2="231.4" class="t"/>
<line x1="450.6" y1="231.4" x2="450.6" y2="271.6" class="t"/>
<line x1="458.9" y1="231.4" x2="458.9" y2="266.0" class="t"/>
<line x1="460.1" y1="233.0" x2="460.1" y2="264.0" class="t"/>
<path d="M463.8 232.0 L462.2 236.5 L460.1 233.5" class="t"/>
<path d="M458.9 264.5 L461.9 269.2 L465.7 264.5" class="t"/>
<line x1="464.5" y1="236.0" x2="464.5" y2="263.0" class="t"/>
<path d="M452.6 271.6 L490.7 271.6 L490.7 272.6 L486.9 279.0 L457.2 279.0 Z" class="m2 fw"/>
<line x1="454.0" y1="274.0" x2="489.8" y2="274.0" class="t"/>
<line x1="469.5" y1="271.6" x2="469.5" y2="279.0" class="t"/>
<path d="M449.3 281.2 L479.8 281.2 L479.8 290.1 L449.3 290.1" class="m2 fw"/>
<line x1="452.6" y1="281.2" x2="452.6" y2="290.1" class="t"/>
<line x1="477.5" y1="281.2" x2="477.5" y2="290.1" class="t"/>
<line x1="452.6" y1="279.0" x2="452.6" y2="281.2" class="t"/>
<line x1="449.3" y1="279.5" x2="457.0" y2="279.5" class="t"/>
<circle cx="471.7" cy="291.6" r="1.0" class="t"/>
<path d="M471.0 292.6 L472.4 292.6 L472.4 294.0 L471.0 294.0 Z" class="bd"/>
<path d="M468.1 293.9 L475.2 293.9 L475.2 330.8 L468.1 330.8 Z" class="m2"/>
<line x1="469.4" y1="295.5" x2="469.4" y2="329.0" class="t"/>
<line x1="474.0" y1="295.5" x2="474.0" y2="329.0" class="t"/>
<path d="M468.1 293.9 L471.7 299.6 L475.2 293.9" class="t"/>
<path d="M468.1 330.8 L471.7 324.5 L475.2 330.8" class="t"/>
<path d="M434.6 271.6 A17.8 17.8 0 0 1 454.4 271.6" class="t"/>
<path d="M439.8 271.0 L444.5 267.4 L449.2 271.0 L449.2 304.7 L439.8 304.7 Z" class="m2 fw"/>
<line x1="442.6" y1="272.5" x2="442.6" y2="301.0" class="t"/>
<line x1="446.4" y1="272.5" x2="446.4" y2="301.0" class="t"/>
<path d="M439.8 271.0 L444.5 275.0 L449.2 271.0" class="t"/>
<path d="M439.8 304.7 L444.5 298.5 L449.2 304.7" class="t"/>
<line x1="516.4" y1="191.8" x2="516.4" y2="330.0" class="d"/>
<line x1="510.2" y1="191.8" x2="517.5" y2="191.8" class="d"/>
<line x1="510.2" y1="330.0" x2="517.5" y2="330.0" class="d"/>
<path d="M516.4 191.8 l-0.6 3 h1.2 Z M516.4 330 l-0.6 -3 h1.2 Z" class="dk"/>
<text transform="translate(515.5,262.3) rotate(-90)" font-size="19" class="s" fill="#111" text-anchor="middle" textLength="30.6" lengthAdjust="spacingAndGlyphs">390</text>
<text x="428.4" y="359.4" font-size="19" textLength="30.9" lengthAdjust="spacingAndGlyphs" class="s" fill="#111" >255</text>
<text x="610.6" y="359.4" font-size="19" textLength="28.7" lengthAdjust="spacingAndGlyphs" class="s" fill="#111" >178</text>
<line x1="397.1" y1="361.0" x2="489.7" y2="361.0" class="d"/>
<line x1="397.1" y1="353.6" x2="397.1" y2="362.5" class="d"/>
<line x1="489.7" y1="353.6" x2="489.7" y2="362.5" class="d"/>
<line x1="590.0" y1="361.0" x2="659.5" y2="361.0" class="d"/>
<line x1="590.0" y1="353.6" x2="590.0" y2="362.5" class="d"/>
<line x1="659.5" y1="353.6" x2="659.5" y2="362.5" class="d"/>
<text x="428.5" y="469.1" font-size="14" class="s" fill="#111" textLength="191.2" lengthAdjust="spacingAndGlyphs">Product coding: MARRON AP2</text>
</g>
<g id="side">
<rect x="589.6" y="266.9" width="8.9" height="37.8" rx="1.2" class="k2"/>
<path d="M592.6 268.3 h2.6 v1 h-2.6 Z M592.6 302.5 h2.6 v1 h-2.6 Z" class="dk"/>
<rect x="598.5" y="280.2" width="15.4" height="11.2" class="k2"/>
<path d="M609 277.4 L609 194 Q609 192.5 610.5 192.5 L622.2 192.5" class="lt"/>
<path d="M610.7 277.4 L610.7 194 L622.2 194" class="lt"/>
<path d="M605 277.4 L605 232.6 Q605 231.4 606.2 231.4 L623.9 231.4" class="lt"/>
<path d="M606.7 277.4 L606.7 233 L623.9 233" class="lt"/>
<rect x="604.4" y="277.4" width="2.9" height="2.8" class="dk3"/>
<rect x="608.4" y="277.4" width="2.9" height="2.8" class="dk3"/>
<rect x="614.3" y="282.2" width="2.4" height="1.9" class="dk3"/>
<rect x="614.3" y="287.9" width="2.4" height="1.9" class="dk3"/>
<line x1="620.6" y1="193.5" x2="620.6" y2="262" class="chain"/>
<line x1="620.6" y1="193.0" x2="620.6" y2="262.0" class="lt"/>
<line x1="622.7" y1="193.0" x2="622.7" y2="233.0" class="lt"/>
<path d="M622.7 232.2 L626.4 238 L626.4 264.5 L622.6 270.5 L621.6 270.5" class="lt"/>
<line x1="624.4" y1="236.0" x2="624.4" y2="268.0" class="lt"/>
<path d="M620.6 262 L620.6 296.4 L621.2 296.4 L624.4 290.6 L624.4 270" class="lt"/>
<line x1="622.0" y1="264.0" x2="622.0" y2="295.5" class="lt"/>
<rect x="613.9" y="281.2" width="39.8" height="9.4" class="t"/>
<rect x="640.4" y="250.4" width="12.1" height="21.6" class="lt"/>
<path d="M646.2 223.9 C649.5 227.5 652.8 233 652.8 238 C652.8 243.5 650 247 649.9 250.4 L642.9 250.4 C642.8 247 639.6 243.5 639.6 238 C639.6 233 643 227.5 646.2 223.9 Z" class="t"/>
<path d="M644 251.2 L648.8 251.2 L648.8 257.3 L646.4 259 L644 257.3 Z" class="dk3"/>
<path d="M645.7 250.4 L645.9 243 L647 243 L647.2 250.4 M645.9 243 L646.4 238.5 L647 243" class="f"/>
<path d="M633.3 272 L659.5 272 L659.5 273.2 L655.8 279.5 L637.1 279.5 L633.3 273.2 Z" class="t"/>
<path d="M633.3 271.6 L659.5 271.6 L659.5 273 L633.3 273 Z" class="dk"/>
<rect x="644.9" y="279.5" width="3.3" height="1.7" class="dk3"/>
<circle cx="646.3" cy="292.3" r="0.9" class="lt"/>
<rect x="645.6" y="293.4" width="1.3" height="2.2" class="dk3"/>
<path d="M645 295.6 L646.6 295.6 L649.5 299.5 L649.5 324.5 L645.9 330.3 L645 330.3 Z" class="lt"/>
<line x1="646.6" y1="297.0" x2="646.6" y2="329.0" class="lt"/>
</g>
</svg>
</body></html>
